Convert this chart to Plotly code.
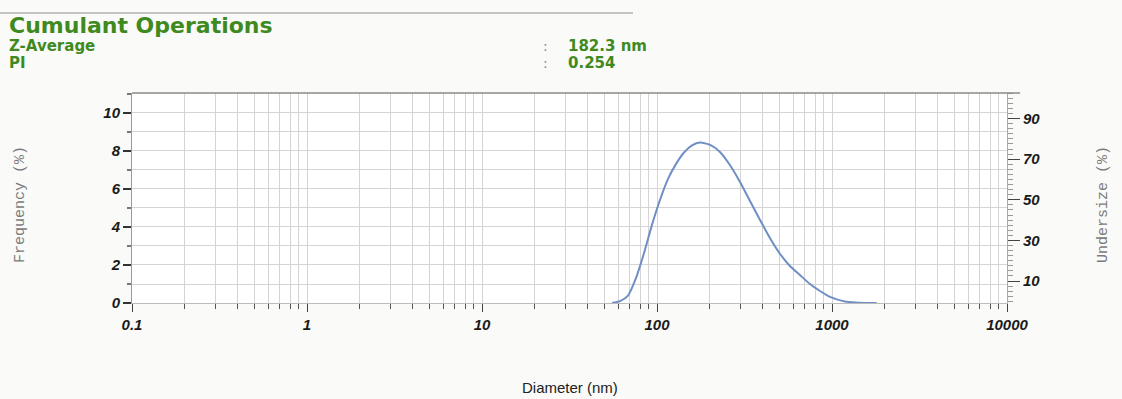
import plotly.graph_objects as go

# ---- data ----
diameter_nm = [55.3, 61.5, 68.3, 75.9, 84.3, 93.6, 104, 115.6, 128.5, 142.7, 158.5,
               176.2, 201, 229, 261, 298, 340, 388, 442, 505, 575, 656, 748, 854,
               974, 1186, 1545, 1800]
frequency_pct = [0.0, 0.1, 0.39, 1.32, 2.63, 4.11, 5.42, 6.53, 7.32, 7.92, 8.29,
                 8.44, 8.32, 7.95, 7.26, 6.37, 5.37, 4.37, 3.42, 2.58, 1.95, 1.47,
                 1.0, 0.63, 0.32, 0.08, 0.0, 0.0]

x_tickvals = [0.1, 1, 10, 100, 1000, 10000]
x_ticktext = ["0.1", "1", "10", "100", "1000", "10000"]
y_tickvals = [0, 2, 4, 6, 8, 10]
y2_tickvals = [10, 30, 50, 70, 90]

title_text = "Cumulant Operations"
info_labels = ["Z-Average", "PI"]
info_values = ["182.3 nm", "0.254"]

GREEN = "#3f8a1f"
GRID = "#d4d4d4"
HEAD_FONT = "DejaVu Sans, Liberation Sans, Arial"
TICKFONT = dict(family="Liberation Sans, Arial", size=15, color="#1a1a1a",
                weight="bold", style="italic")

fig = go.Figure()
fig.add_trace(go.Scatter(
    x=diameter_nm, y=frequency_pct, mode="lines",
    line=dict(color="#6f8fc4", width=2, shape="spline", smoothing=0.6),
    showlegend=False, hoverinfo="skip"))
# the undersize axis has no curve drawn in the reference; an empty trace keeps the axis
fig.add_trace(go.Scatter(x=[], y=[], yaxis="y2", mode="lines",
                         showlegend=False, hoverinfo="skip"))

fig.update_layout(
    width=1122, height=399,
    margin=dict(l=132, r=115, t=93, b=96),
    paper_bgcolor="#fafaf8", plot_bgcolor="#ffffff",
    showlegend=False,
    xaxis=dict(
        type="log", range=[-1, 4], tickvals=x_tickvals, ticktext=x_ticktext,
        showgrid=True, gridcolor=GRID, gridwidth=1,
        ticks="outside", ticklen=8, tickcolor="#444", tickwidth=1,
        minor=dict(dtick="D1", showgrid=True, gridcolor=GRID, gridwidth=1,
                   ticks="outside", ticklen=5, tickcolor="#555"),
        showline=True, linecolor="#bbbbbb", linewidth=1,
        tickfont=TICKFONT, zeroline=False),
    yaxis=dict(
        range=[0, 11.05], tickvals=y_tickvals,
        showgrid=True, gridcolor=GRID, gridwidth=1,
        ticks="outside", ticklen=8, tickcolor="#333", tickwidth=1.5,
        minor=dict(dtick=1, showgrid=True, gridcolor=GRID,
                   ticks="outside", ticklen=4, tickcolor="#777"),
        showline=True, linecolor="#999999", linewidth=1,
        tickfont=TICKFONT, zeroline=False),
    yaxis2=dict(
        overlaying="y", side="right", range=[-0.8, 102.6],
        tickvals=y2_tickvals, showgrid=False,
        ticks="outside", ticklen=12, tickcolor="#444", tickwidth=1,
        minor=dict(dtick=2.5, ticks="outside", ticklen=5, tickcolor="#999"),
        showline=True, linecolor="#aaaaaa", linewidth=1,
        tickfont=TICKFONT, zeroline=False),
)

# top frame line of the plot
fig.add_shape(type="line", xref="paper", yref="paper", x0=0, x1=1.015, y0=1, y1=1,
              line=dict(color="#8a8a8a", width=1.5))


def px_to_paper_x(px):
    return (px - 132) / 875


def px_to_paper_y(py):
    return (303 - py) / 210


# decorative rule at the top of the page
fig.add_shape(type="line", xref="paper", yref="paper",
              x0=px_to_paper_x(0), x1=px_to_paper_x(633),
              y0=px_to_paper_y(13), y1=px_to_paper_y(13),
              line=dict(color="#c4c4c4", width=2))

fig.add_annotation(text=f"<b>{title_text}</b>", xref="paper", yref="paper",
                   x=px_to_paper_x(7), y=px_to_paper_y(25), xanchor="left", yanchor="middle",
                   showarrow=False, font=dict(family=HEAD_FONT, size=22, color=GREEN))
for i, (lab, val) in enumerate(zip(info_labels, info_values)):
    yy = px_to_paper_y(46 + i * 17)
    fig.add_annotation(text=f"<b>{lab}</b>", xref="paper", yref="paper",
                       x=px_to_paper_x(7), y=yy, xanchor="left", yanchor="middle",
                       showarrow=False, font=dict(family=HEAD_FONT, size=15, color=GREEN))
    fig.add_annotation(text=":", xref="paper", yref="paper",
                       x=px_to_paper_x(545), y=yy, xanchor="center", yanchor="middle",
                       showarrow=False, font=dict(family=HEAD_FONT, size=14, color="#8a8a8a"))
    fig.add_annotation(text=f"<b>{val}</b>", xref="paper", yref="paper",
                       x=px_to_paper_x(566), y=yy, xanchor="left", yanchor="middle",
                       showarrow=False, font=dict(family=HEAD_FONT, size=15, color=GREEN))

fig.add_annotation(text="Frequency (%)", xref="paper", yref="paper",
                   x=px_to_paper_x(20), y=px_to_paper_y(205), textangle=-90,
                   xanchor="center", yanchor="middle", showarrow=False,
                   font=dict(family="Liberation Mono, DejaVu Sans Mono", size=15, color="#7a7a7a"))
fig.add_annotation(text="Undersize (%)", xref="paper", yref="paper",
                   x=px_to_paper_x(1103), y=px_to_paper_y(205), textangle=-90,
                   xanchor="center", yanchor="middle", showarrow=False,
                   font=dict(family="Liberation Mono, DejaVu Sans Mono", size=15, color="#7a7a7a"))
fig.add_annotation(text="Diameter (nm)", xref="paper", yref="paper",
                   x=0.5, y=px_to_paper_y(387), xanchor="center", yanchor="middle",
                   showarrow=False,
                   font=dict(family="Liberation Sans, Arial", size=15, color="#222"))

fig.write_html("out.html", config={"displayModeBar": False},
               post_script="document.body.style.margin='0';")
